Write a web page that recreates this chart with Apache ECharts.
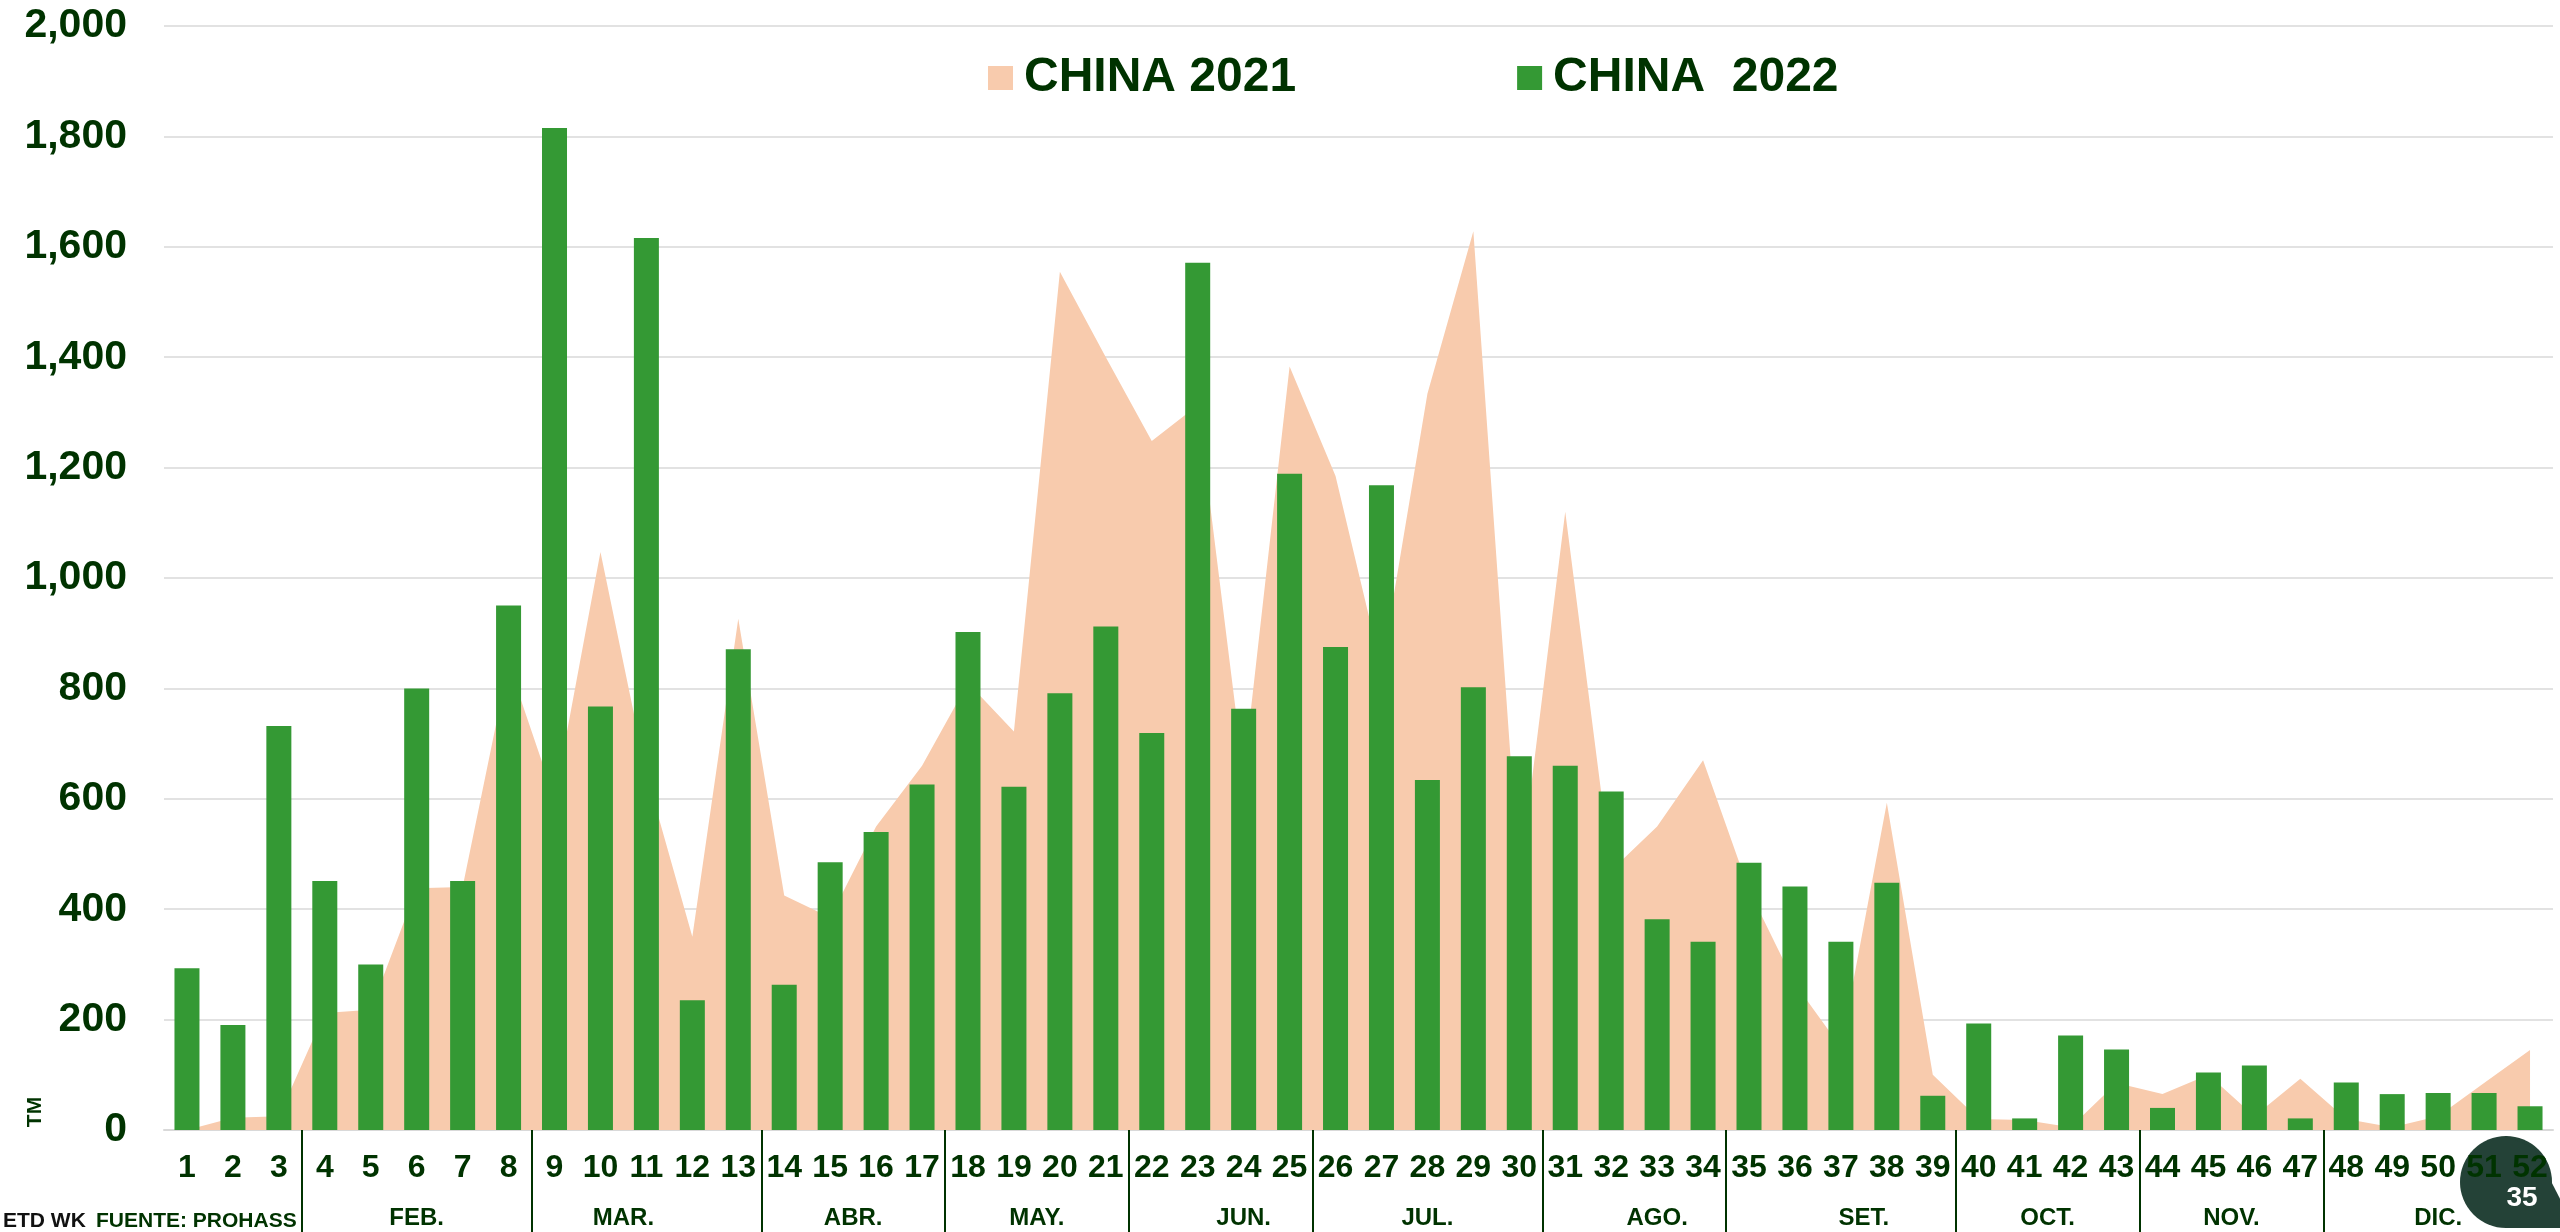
<!DOCTYPE html>
<html>
<head>
<meta charset="utf-8">
<title>CHINA 2021 / 2022</title>
<script src="https://cdn.jsdelivr.net/npm/echarts@6.0.0/dist/echarts.min.js"></script>
<style>
  html, body { margin: 0; padding: 0; background: #ffffff; }
  #chart { width: 2560px; height: 1232px; }
</style>
</head>
<body>
<div id="chart"></div>
<script>
// semanas del año
const weeks = ['1', '2', '3', '4', '5', '6', '7', '8', '9', '10', '11', '12', '13',
  '14', '15', '16', '17', '18', '19', '20', '21', '22', '23', '24', '25', '26',
  '27', '28', '29', '30', '31', '32', '33', '34', '35', '36', '37', '38', '39',
  '40', '41', '42', '43', '44', '45', '46', '47', '48', '49', '50', '51', '52'];

// TM por semana
const china2021 = [0, 22, 25, 212, 218, 438, 440, 845, 600, 1047, 645, 350, 926,
  425, 385, 550, 660, 810, 722, 1555, 1400, 1248, 1313, 645, 1383, 1185,
  835, 1334, 1628, 450, 1120, 470, 550, 670, 435, 265, 150, 593, 100,
  20, 18, 5, 85, 65, 100, 25, 93, 20, 5, 25, 85, 145];

const china2022 = [293, 190, 732, 451, 300, 800, 451, 950, 1815, 767, 1616, 235, 871,
  263, 485, 540, 626, 902, 622, 791, 912, 719, 1571, 763, 1189, 875,
  1168, 634, 802, 677, 660, 613, 382, 341, 484, 441, 341, 448, 62,
  193, 21, 171, 146, 40, 104, 117, 21, 86, 65, 67, 67, 43];

// meses: limites (en semanas) y centro de cada etiqueta
const monthBounds = [3, 8, 13, 17, 21, 25, 30, 34, 39, 43, 47];
const monthNames = ['FEB.', 'MAR.', 'ABR.', 'MAY.', 'JUN.', 'JUL.', 'AGO.', 'SET.', 'OCT.', 'NOV.', 'DIC.'];
const monthCenters = [5.5, 10, 15, 19, 23.5, 27.5, 32.5, 37, 41, 45, 49.5];

const font = "'Liberation Sans', Arial, Helvetica, sans-serif";
const darkGreen = '#003300';

const chart = echarts.init(document.getElementById('chart'));

chart.setOption({
  animation: false,
  textStyle: { fontFamily: font },
  grid: { left: 164, right: 7, top: 26, bottom: 102, containLabel: false, outerBoundsMode: 'none' },
  legend: {
    left: 983,
    top: 49,
    itemWidth: 25,
    itemHeight: 24,
    itemGap: 221,
    textStyle: { fontSize: 48, fontWeight: 'bold', color: darkGreen, fontFamily: font, padding: [0, 0, 0, 6] },
    data: [
      { name: 'CHINA 2021', icon: 'rect' },
      { name: 'CHINA  2022', icon: 'rect' }
    ]
  },
  xAxis: [
    {
      type: 'category',
      data: weeks,
      position: 'bottom',
      boundaryGap: true,
      axisLine: { show: true, lineStyle: { color: '#d9d9d9', width: 2 } },
      axisTick: { show: false },
      axisLabel: { interval: 0, margin: 22, fontSize: 32, fontWeight: 'bold', color: darkGreen, fontFamily: font },
      splitLine: { show: false }
    },
    {
      type: 'value',
      position: 'bottom',
      min: 0,
      max: 52,
      axisLine: { show: false },
      splitLine: { show: false },
      axisTick: {
        show: true,
        length: 104,
        customValues: monthBounds,
        lineStyle: { color: darkGreen, width: 2 }
      },
      axisLabel: {
        margin: 76,
        fontSize: 24,
        fontWeight: 'bold',
        color: darkGreen,
        fontFamily: font,
        customValues: monthCenters,
        formatter: (v) => {
          const k = monthCenters.findIndex((c) => Math.abs(c - v) < 0.01);
          return k >= 0 ? monthNames[k] : '';
        }
      }
    }
  ],
  yAxis: {
    type: 'value',
    min: 0,
    max: 2000,
    interval: 200,
    axisLine: { show: false },
    axisTick: { show: false },
    splitLine: { show: true, lineStyle: { color: '#d9d9d9', width: 1.5 } },
    axisLabel: {
      margin: 37,
      fontSize: 41,
      fontWeight: 'bold',
      color: darkGreen,
      fontFamily: font,
      formatter: (v) => v.toLocaleString('en-US')
    }
  },
  series: [
    {
      name: 'CHINA 2021',
      type: 'line',
      data: china2021,
      symbol: 'none',
      color: '#F8CBAD',
      lineStyle: { width: 0, color: '#F8CBAD' },
      areaStyle: { color: '#F8CBAD', opacity: 1 },
      z: 1
    },
    {
      name: 'CHINA  2022',
      type: 'bar',
      data: china2022,
      barWidth: 25,
      color: '#349934',
      itemStyle: { color: '#349934' },
      z: 2
    }
  ],
  graphic: [
    {
      type: 'text', x: 35, y: 1112, rotation: Math.PI / 2,
      style: { text: 'TM', font: 'bold 21px ' + font, fill: darkGreen,
        textAlign: 'center', textVerticalAlign: 'middle', align: 'center', verticalAlign: 'middle' }
    },
    {
      type: 'text', x: 3, y: 1221,
      style: { text: 'ETD WK', font: 'bold 21px ' + font, fill: '#111111',
        textAlign: 'left', textVerticalAlign: 'middle', align: 'left', verticalAlign: 'middle' }
    },
    {
      type: 'text', x: 96, y: 1221,
      style: { text: 'FUENTE: PROHASS', font: 'bold 21px ' + font, fill: darkGreen,
        textAlign: 'left', textVerticalAlign: 'middle', align: 'left', verticalAlign: 'middle' }
    },
    // numero de pagina
    { type: 'circle', z: -1, shape: { cx: 2506, cy: 1182, r: 46 }, style: { fill: '#244237' } },
    { type: 'polygon', z: -1, shape: { points: [[2506, 1136], [2534, 1148], [2575, 1228], [2506, 1228]] }, style: { fill: '#244237' } },
    {
      type: 'text', x: 2522, y: 1198, z: -1,
      style: { text: '35', font: 'bold 28px ' + font, fill: '#ffffff',
        textAlign: 'center', textVerticalAlign: 'middle', align: 'center', verticalAlign: 'middle' }
    }
  ]
});
</script>
</body>
</html>
